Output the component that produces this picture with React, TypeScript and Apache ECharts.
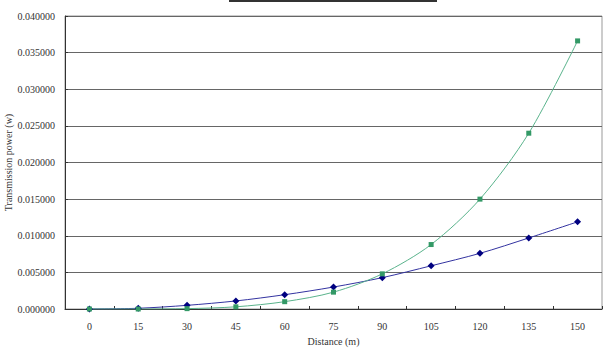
import React, { useEffect, useRef } from "react";
import * as echarts from "echarts";

const distances = ["0", "15", "30", "45", "60", "75", "90", "105", "120", "135", "150"];
const seriesBlue = [0.0, 0.0001, 0.0005, 0.0011, 0.00195, 0.003, 0.00428, 0.0059, 0.0076, 0.0097, 0.0119];
const seriesGreen = [0.0, 0.0, 0.00005, 0.0003, 0.001, 0.0023, 0.0048, 0.0088, 0.015, 0.024, 0.0366];

export default function App() {
  const ref = useRef<HTMLDivElement>(null);
  useEffect(() => {
    const chart = echarts.init(ref.current!, null, { renderer: "svg" });
    const font = "'Liberation Serif', 'Times New Roman', serif";
    chart.setOption({
      animation: false,
      textStyle: { fontFamily: font },
      graphic: [
        { type: "rect", shape: { x: 229, y: 0, width: 208, height: 2 }, style: { fill: "#333" } },
      ],
      grid: {
        left: 65, right: 2, top: 16, bottom: 40,
        containLabel: false, outerBoundsMode: "none",
        show: true, borderColor: "#999", borderWidth: 1,
      },
      xAxis: {
        type: "category",
        data: distances,
        boundaryGap: true,
        name: "Distance (m)",
        nameLocation: "middle",
        nameGap: 27,
        nameMoveOverlap: false,
        nameTextStyle: { fontFamily: font, fontSize: 10, color: "#333" },
        axisLine: { lineStyle: { color: "#333", width: 1 } },
        axisTick: { show: true, inside: true, length: 3, alignWithLabel: false, lineStyle: { color: "#333" } },
        axisLabel: { fontFamily: font, fontSize: 10, color: "#333", margin: 12 },
      },
      yAxis: {
        type: "value",
        min: 0,
        max: 0.04,
        interval: 0.005,
        name: "Transmission power (w)",
        nameLocation: "middle",
        nameGap: 52,
        nameMoveOverlap: false,
        nameTextStyle: { fontFamily: font, fontSize: 10, color: "#333" },
        axisLine: { show: true, lineStyle: { color: "#333", width: 1 } },
        axisTick: { show: true, inside: true, length: 3, lineStyle: { color: "#333" } },
        axisLabel: { fontFamily: font, fontSize: 10, color: "#333", margin: 10, formatter: (v: number) => v.toFixed(6) },
        splitLine: { show: true, lineStyle: { color: "#666", width: 1 } },
      },
      series: [
        {
          type: "line",
          data: seriesBlue,
          smooth: 0.3,
          symbol: "diamond",
          symbolSize: 7,
          itemStyle: { color: "#000080" },
          lineStyle: { color: "#3333a0", width: 1 },
        },
        {
          type: "line",
          data: seriesGreen,
          smooth: 0.3,
          symbol: "rect",
          symbolSize: 5,
          itemStyle: { color: "#339966" },
          lineStyle: { color: "#5ab38c", width: 1 },
        },
      ],
    });
    return () => chart.dispose();
  }, []);
  return <div ref={ref} style={{ width: 604, height: 349, position: "absolute", left: 0, top: 0, background: "#fff" }} />;
}
